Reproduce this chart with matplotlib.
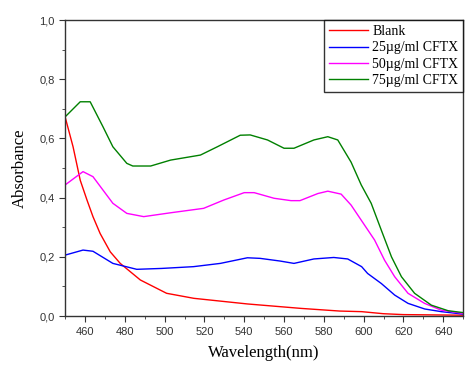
import matplotlib
matplotlib.use("Agg")
import matplotlib.pyplot as plt
from matplotlib.ticker import MultipleLocator, FuncFormatter

# Wavelength (nm) / absorbance
wl_blank = [450, 454, 457.6, 461, 464, 467.6, 472.7, 477.7, 487.8, 501, 514.7,
            541.6, 568.5, 588, 599, 610, 620, 635, 650]
abs_blank = [0.673, 0.572, 0.459, 0.392, 0.336, 0.279, 0.217, 0.178, 0.122, 0.077,
             0.060, 0.041, 0.026, 0.017, 0.015, 0.008, 0.005, 0.004, 0.003]

wl_25 = [450, 459, 464, 474, 486, 498.5, 514.5, 528, 541.6, 548, 558, 565, 575, 585,
         592, 599, 602, 608.9, 615.6, 622.3, 630.7, 639, 651]
abs_25 = [0.206, 0.223, 0.219, 0.178, 0.158, 0.161, 0.167, 0.178, 0.197, 0.195, 0.186,
          0.178, 0.193, 0.198, 0.193, 0.167, 0.144, 0.110, 0.071, 0.043, 0.024, 0.015,
          0.006]

wl_50 = [450, 459, 464, 474, 481, 489.5, 503, 519.6, 529.7, 540, 545, 555, 563.5, 568,
         577, 582, 588.7, 593.7, 598.8, 605.5, 610.5, 615.6, 622.3, 630.6, 639, 651]
abs_50 = [0.443, 0.488, 0.471, 0.381, 0.347, 0.336, 0.349, 0.364, 0.392, 0.417, 0.417,
          0.398, 0.390, 0.390, 0.414, 0.422, 0.412, 0.375, 0.324, 0.257, 0.189, 0.133,
          0.077, 0.043, 0.020, 0.008]

wl_75 = [450, 457.6, 462.6, 469, 474, 481, 484, 493, 503, 518, 526.5, 538, 543, 551.7,
         560, 565, 575, 582, 587, 593.7, 598.8, 603.8, 608.9, 614, 619, 625.6, 634,
         642.5, 651]
abs_75 = [0.673, 0.724, 0.724, 0.640, 0.572, 0.516, 0.507, 0.507, 0.527, 0.544, 0.572,
          0.611, 0.612, 0.595, 0.567, 0.567, 0.595, 0.606, 0.595, 0.520, 0.443, 0.381,
          0.290, 0.200, 0.133, 0.077, 0.037, 0.018, 0.011]

series = [
    (wl_blank, abs_blank, "Blank", "#ff0000"),
    (wl_25, abs_25, "25\u00b5g/ml CFTX", "#0000ff"),
    (wl_50, abs_50, "50\u00b5g/ml CFTX", "#ff00ff"),
    (wl_75, abs_75, "75\u00b5g/ml CFTX", "#008000"),
]

fig = plt.figure(figsize=(4.65, 3.65), dpi=100)
ax = fig.add_axes([0.140, 0.134, 0.856, 0.811])

for x, y, label, color in series:
    ax.plot(x, y, color=color, lw=1.0, label=label)

ax.set_xlim(450, 650)
ax.set_ylim(0, 1.0)
ax.xaxis.set_major_locator(MultipleLocator(20))
ax.xaxis.set_minor_locator(MultipleLocator(10))
ax.yaxis.set_major_locator(MultipleLocator(0.2))
ax.yaxis.set_minor_locator(MultipleLocator(0.1))
ax.yaxis.set_major_formatter(FuncFormatter(lambda v, p: f"{v:.1f}".replace(".", ",")))
ax.tick_params(which="both", direction="out", color="#333333")
ax.tick_params(which="major", length=4, labelsize=8, labelcolor="#333333")
ax.tick_params(which="minor", length=2.5)
for lab in ax.get_xticklabels() + ax.get_yticklabels():
    lab.set_family("Liberation Sans")
for s in ax.spines.values():
    s.set_linewidth(1.0)
    s.set_color("#333333")

ax.set_xlabel("Wavelength(nm)", family="Liberation Serif", fontsize=12, labelpad=6)
ax.set_ylabel("Absorbance", family="Liberation Serif", fontsize=12, labelpad=8)

leg = ax.legend(loc="upper right", prop={"family": "Liberation Serif", "size": 10},
                frameon=True, fancybox=False, edgecolor="black", borderaxespad=0,
                labelspacing=0.25, handlelength=2.8, handletextpad=0.3,
                borderpad=0.35)
leg.get_frame().set_linewidth(1.0)

fig.savefig("out.png", dpi=100)
